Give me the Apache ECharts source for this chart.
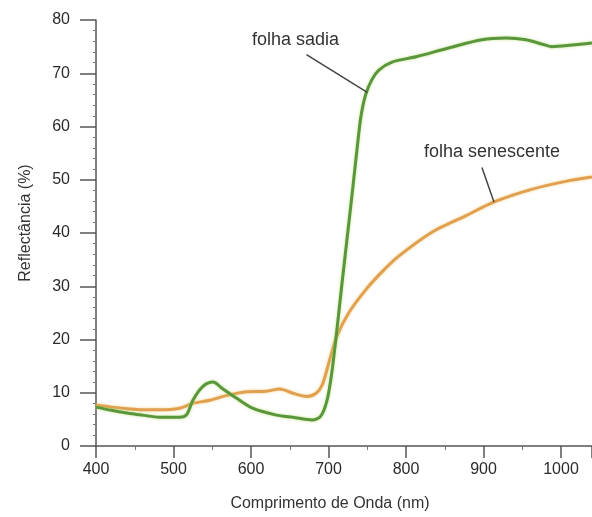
<!DOCTYPE html>
<html>
<head>
<meta charset="utf-8">
<script src="https://cdn.jsdelivr.net/npm/echarts@6/dist/echarts.min.js"></script>
<style>
html,body{margin:0;padding:0;background:#fff;}
#c{width:592px;height:517px;}
</style>
</head>
<body>
<div id="c"></div>
<script>
// Data
var sadiaNm  = [400, 420, 440, 460, 482, 508, 517, 525, 538, 551, 563, 581, 602, 633, 654, 679, 690, 698, 704, 710, 717, 724, 731, 737, 742, 748, 756, 765, 782, 813, 856, 898, 929, 955, 975, 988, 1014, 1040];
var sadiaVal = [7.3, 6.7, 6.2, 5.8, 5.4, 5.4, 5.9, 8.6, 11.2, 12.0, 10.8, 9.0, 7.1, 5.8, 5.4, 4.9, 5.6, 8.5, 13.5, 20.7, 30, 39, 48, 56, 62, 66, 68.8, 70.6, 72.1, 73.1, 74.8, 76.3, 76.6, 76.3, 75.5, 75.0, 75.3, 75.7];
var senNm  = [400, 420, 440, 460, 482, 508, 525, 547, 569, 594, 620, 637, 654, 672, 684, 692, 701, 711, 727, 749, 769, 791, 834, 877, 913, 962, 1006, 1040];
var senVal = [7.7, 7.3, 7.0, 6.8, 6.8, 7.1, 8.0, 8.6, 9.5, 10.2, 10.3, 10.7, 9.9, 9.3, 9.9, 11.5, 15.9, 20.7, 25.2, 29.5, 32.7, 35.7, 40.2, 43.2, 45.8, 48.2, 49.7, 50.5];
var seriesNames = ['folha sadia', 'folha senescente'];
var xTitle = 'Comprimento de Onda (nm)';
var yTitle = 'Reflectância (%)';

function pairs(xs, ys){ return xs.map(function(x,i){ return [x, ys[i]]; }); }

var FONT = '"Liberation Sans", Arial, sans-serif';
var chart = echarts.init(document.getElementById('c'), null, {renderer:'canvas'});
chart.setOption({
  animation: false,
  backgroundColor: '#ffffff',
  grid: {left: 96, right: 0, top: 20, bottom: 69, containLabel: false},
  xAxis: {
    type: 'value', min: 400, max: 1040, interval: 100,
    name: xTitle, nameLocation: 'middle', nameGap: 50,
    nameTextStyle: {fontFamily: FONT, fontSize: 16, color: '#333', padding: [0, 28, 0, 0]},
    axisLine: {show: true, onZero: false, lineStyle: {color: '#555', width: 1.5}},
    axisTick: {show: true, inside: false, length: 12, lineStyle: {color: '#555', width: 1.5}},
    minorTick: {show: true, splitNumber: 2, length: 4, lineStyle: {color: '#777', width: 1}},
    axisLabel: {fontFamily: FONT, fontSize: 16, color: '#2a2a2a', margin: 16, showMaxLabel: false,
      formatter: function(v){ return String(v); }},
    splitLine: {show: false}
  },
  yAxis: {
    type: 'value', min: 0, max: 80, interval: 10,
    name: yTitle, nameLocation: 'middle', nameGap: 62, nameRotate: 90,
    nameTextStyle: {fontFamily: FONT, fontSize: 16, color: '#333', padding: [0, 0, 0, 20]},
    axisLine: {show: true, lineStyle: {color: '#555', width: 1.5}},
    axisTick: {show: true, inside: false, length: 16, lineStyle: {color: '#555', width: 1.5}},
    minorTick: {show: true, splitNumber: 5, length: 3, lineStyle: {color: '#777', width: 1}},
    axisLabel: {fontFamily: FONT, fontSize: 16, color: '#2a2a2a', margin: 26},
    splitLine: {show: false}
  },
  series: [
    {
      name: seriesNames[1], type: 'line', smooth: 0.3, showSymbol: false,
      data: pairs(senNm, senVal),
      lineStyle: {color: '#e0a050', width: 3, shadowColor: 'rgba(240,200,120,0.8)', shadowBlur: 3},
      markLine: {
        silent: true, symbol: ['none','none'], label: {show: false},
        lineStyle: {color: '#444', width: 1.5, type: 'solid'},
        data: [[{coord: [898, 52.3]}, {coord: [913.5, 45.8]}]]
      },
      markPoint: {
        silent: true, symbolSize: 1, itemStyle: {color: 'rgba(0,0,0,0)'},
        label: {show: true, position: 'inside', fontFamily: FONT, fontSize: 18, color: '#333', formatter: seriesNames[1]},
        data: [{coord: [911, 55.1]}]
      }
    },
    {
      name: seriesNames[0], type: 'line', smooth: 0.3, showSymbol: false,
      data: pairs(sadiaNm, sadiaVal),
      lineStyle: {color: '#5a963c', width: 3, shadowColor: 'rgba(180,220,110,0.8)', shadowBlur: 3},
      markLine: {
        silent: true, symbol: ['none','none'], label: {show: false},
        lineStyle: {color: '#444', width: 1.5, type: 'solid'},
        data: [[{coord: [671.6, 73.5]}, {coord: [750, 66.4]}]]
      },
      markPoint: {
        silent: true, symbolSize: 1, itemStyle: {color: 'rgba(0,0,0,0)'},
        label: {show: true, position: 'inside', fontFamily: FONT, fontSize: 18, color: '#333', formatter: seriesNames[0]},
        data: [{coord: [657.4, 76.1]}]
      }
    }
  ]
});
</script>
</body>
</html>
